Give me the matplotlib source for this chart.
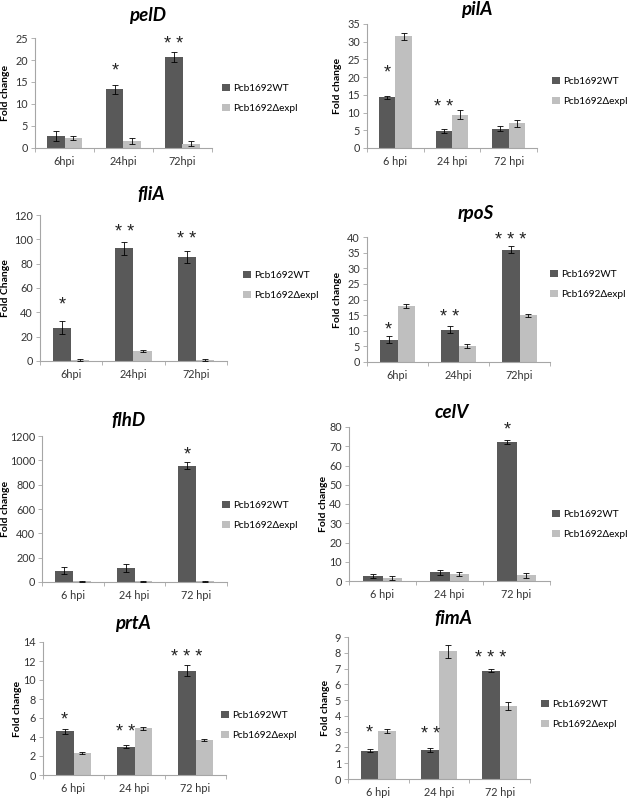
import matplotlib
matplotlib.use("Agg")
import matplotlib.pyplot as plt
import numpy as np

plt.rcParams['font.family'] = ['Lato', 'DejaVu Sans']

W, H = 627, 800
DARK = "#595959"
LIGHT = "#BFBFBF"
AX_COL = "#A6A6A6"

legend_labels = ["Pcb1692WT", "Pcb1692\u0394expI"]

# ---- data ----
pelD_cats = ["6hpi", "24hpi", "72hpi"]
pelD_wt = [2.8, 13.3, 20.7]
pelD_wt_err = [1.1, 1.1, 1.1]
pelD_mut = [2.3, 1.6, 1.0]
pelD_mut_err = [0.5, 0.6, 0.5]
pelD_stars = ["", "*", "**"]
pelD_star_y = [0, 17.5, 23.5]

pilA_cats = ["6 hpi", "24 hpi", "72 hpi"]
pilA_wt = [14.3, 4.9, 5.5]
pilA_wt_err = [0.5, 0.6, 0.6]
pilA_mut = [31.6, 9.4, 7.0]
pilA_mut_err = [1.0, 1.2, 1.0]
pilA_stars = ["*", "**", ""]
pilA_star_y = [21.2, 11.4, 0]

fliA_cats = ["6hpi", "24hpi", "72hpi"]
fliA_wt = [27.5, 92.5, 85.5]
fliA_wt_err = [5.0, 5.0, 5.0]
fliA_mut = [1.0, 8.0, 1.0]
fliA_mut_err = [1.0, 1.0, 1.0]
fliA_stars = ["*", "**", "**"]
fliA_star_y = [46, 106, 100]

rpoS_cats = ["6hpi", "24hpi", "72hpi"]
rpoS_wt = [7.2, 10.4, 36.0]
rpoS_wt_err = [1.0, 1.2, 1.0]
rpoS_mut = [18.0, 5.2, 15.0]
rpoS_mut_err = [0.6, 0.6, 0.5]
rpoS_stars = ["*", "**", "***"]
rpoS_star_y = [10.3, 14.3, 39.0]

flhD_cats = ["6 hpi", "24 hpi", "72 hpi"]
flhD_wt = [92, 115, 955]
flhD_wt_err = [30, 35, 30]
flhD_mut = [5, 5, 5]
flhD_mut_err = [5, 5, 5]
flhD_stars = ["", "", "*"]
flhD_star_y = [0, 0, 1044]

celV_cats = ["6 hpi", "24 hpi", "72 hpi"]
celV_wt = [2.5, 4.5, 72.3]
celV_wt_err = [1.0, 1.2, 1.0]
celV_mut = [1.4, 3.6, 3.0]
celV_mut_err = [1.1, 1.2, 1.4]
celV_stars = ["", "", "*"]
celV_star_y = [0, 0, 78.5]

prtA_cats = ["6 hpi", "24 hpi", "72 hpi"]
prtA_wt = [4.6, 3.0, 11.0]
prtA_wt_err = [0.25, 0.2, 0.55]
prtA_mut = [2.3, 4.9, 3.7]
prtA_mut_err = [0.08, 0.2, 0.12]
prtA_stars = ["*", "**", "***"]
prtA_star_y = [5.8, 4.5, 12.4]

fimA_cats = ["6 hpi", "24 hpi", "72 hpi"]
fimA_wt = [1.8, 1.82, 6.87]
fimA_wt_err = [0.1, 0.12, 0.08]
fimA_mut = [3.05, 8.1, 4.6]
fimA_mut_err = [0.15, 0.4, 0.25]
fimA_stars = ["*", "**", "***"]
fimA_star_y = [2.9, 2.8, 7.65]

fig = plt.figure(figsize=(W / 100, H / 100), dpi=100)


def panel(name, cats, wt, wt_err, mut, mut_err, stars, star_y,
          box, ymax, ystep, ylabel, ylabel_x, title_xy, leg_xy):
    l, t, r, b = box
    ax = fig.add_axes([l / W, 1 - b / H, (r - l) / W, (b - t) / H])
    x = np.arange(len(cats))
    bw = 0.29
    ax.bar(x - bw / 2, wt, bw, color=DARK, label=legend_labels[0], zorder=2)
    ax.bar(x + bw / 2, mut, bw, color=LIGHT, label=legend_labels[1], zorder=2)
    ekw = dict(fmt="none", ecolor="black", elinewidth=0.6, capsize=2.2,
               capthick=0.6, zorder=3)
    ax.errorbar(x - bw / 2, wt, yerr=wt_err, **ekw)
    ax.errorbar(x + bw / 2, mut, yerr=mut_err, **ekw)
    for xi, s, sy in zip(x, stars, star_y):
        if s:
            ax.text(xi - bw / 2, sy, " ".join(s), ha="center", va="center",
                    fontsize=13, color="#222222", family="Liberation Sans")
    ax.set_xlim(-0.5, len(cats) - 0.5)
    ax.set_ylim(0, ymax)
    ax.set_yticks(np.arange(0, ymax + ystep / 2, ystep))
    ax.tick_params(axis="y", labelsize=7.8, length=3, width=0.6,
                   color=AX_COL, pad=2, labelcolor="#333333")
    ax.set_xticks(np.arange(-0.5, len(cats), 1.0))
    ax.set_xticklabels([])
    ax.tick_params(axis="x", which="major", length=3, width=0.6,
                   color=AX_COL)
    ax.set_xticks(x, minor=True)
    ax.set_xticklabels(cats, minor=True)
    ax.tick_params(axis="x", which="minor", length=0, labelsize=7.8,
                   pad=6, labelcolor="#333333")
    for s in ["top", "right"]:
        ax.spines[s].set_visible(False)
    for s in ["left", "bottom"]:
        ax.spines[s].set_color(AX_COL)
        ax.spines[s].set_linewidth(0.8)
    ax.set_ylabel(ylabel, fontsize=7.5, fontweight="bold")
    ax.yaxis.label.set_verticalalignment("center")
    ax.yaxis.set_label_coords(ylabel_x / W, 1 - (t + b) / 2 / H,
                              transform=fig.transFigure)
    fig.text(title_xy[0] / W, 1 - title_xy[1] / H, name, ha="center",
             va="center", fontsize=13.5, fontweight="bold", style="italic")
    ax.legend(loc="upper left", bbox_to_anchor=(leg_xy[0] / W, 1 - leg_xy[1] / H),
              bbox_transform=fig.transFigure, frameon=False, fontsize=7.2,
              handlelength=0.75, handleheight=0.75, handletextpad=0.35,
              labelspacing=1.05, borderpad=0, borderaxespad=0)
    return ax


panel("pelD", pelD_cats, pelD_wt, pelD_wt_err, pelD_mut, pelD_mut_err,
      pelD_stars, pelD_star_y, (35, 38, 212, 148), 25, 5, "Fold change", 6,
      (148, 15), (222, 84))
panel("pilA", pilA_cats, pilA_wt, pilA_wt_err, pilA_mut, pilA_mut_err,
      pilA_stars, pilA_star_y, (367, 24, 537, 148), 35, 5, "Fold change", 338,
      (477, 10), (552, 77))
panel("fliA", fliA_cats, fliA_wt, fliA_wt_err, fliA_mut, fliA_mut_err,
      fliA_stars, fliA_star_y, (40, 215, 227, 361), 120, 20, "Fold Change", 6,
      (151, 195), (243, 271))
panel("rpoS", rpoS_cats, rpoS_wt, rpoS_wt_err, rpoS_mut, rpoS_mut_err,
      rpoS_stars, rpoS_star_y, (367, 237, 550, 362), 40, 5, "Fold change", 338,
      (476, 213), (550, 270))
panel("flhD", flhD_cats, flhD_wt, flhD_wt_err, flhD_mut, flhD_mut_err,
      flhD_stars, flhD_star_y, (42, 436, 227, 582), 1200, 200, "Fold change", 6,
      (128, 420), (222, 501))
panel("celV", celV_cats, celV_wt, celV_wt_err, celV_mut, celV_mut_err,
      celV_stars, celV_star_y, (349, 427, 550, 581), 80, 10, "Fold change", 323,
      (452, 413), (552, 510))
panel("prtA", prtA_cats, prtA_wt, prtA_wt_err, prtA_mut, prtA_mut_err,
      prtA_stars, prtA_star_y, (43, 642, 226, 775), 14, 2, "Fold change", 17,
      (133, 623), (221, 711))
panel("fimA", fimA_cats, fimA_wt, fimA_wt_err, fimA_mut, fimA_mut_err,
      fimA_stars, fimA_star_y, (348, 637, 530, 779), 9, 1, "Fold change", 325,
      (453, 618), (541, 700))

fig.savefig("out.png", dpi=100)
